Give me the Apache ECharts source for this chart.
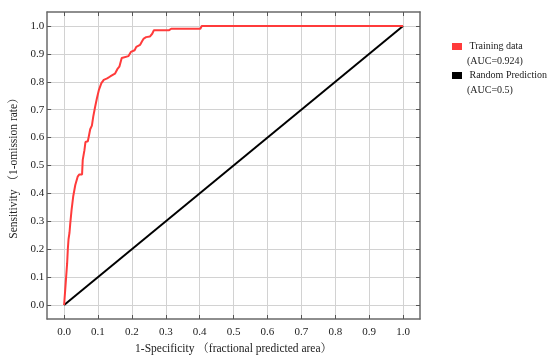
<!DOCTYPE html>
<html><head><meta charset="utf-8">
<script src="https://cdn.jsdelivr.net/npm/echarts@6/dist/echarts.min.js"></script>
<style>html,body{margin:0;padding:0;background:#fff}#c{width:550px;height:360px}</style>
</head><body><div id="c"></div>
<script>
const seriesNames = ['Training data', 'Random Prediction'];
const aucLabels = ['(AUC=0.924)', '(AUC=0.5)'];
const seriesColors = ['#ff3b3b', '#000000'];
const trainingFpr = [0, 0.003, 0.006, 0.009, 0.011, 0.013, 0.016, 0.018, 0.022, 0.027, 0.033, 0.040, 0.045, 0.053, 0.055, 0.060, 0.063, 0.070, 0.073, 0.077, 0.082, 0.086, 0.091, 0.097, 0.103, 0.110, 0.117, 0.127, 0.136, 0.141, 0.150, 0.157, 0.163, 0.170, 0.175, 0.190, 0.197, 0.208, 0.213, 0.224, 0.230, 0.235, 0.242, 0.253, 0.260, 0.265, 0.310, 0.316, 0.402, 0.406, 1.0];
const trainingTpr = [0, 0.05, 0.10, 0.15, 0.20, 0.235, 0.26, 0.29, 0.34, 0.39, 0.43, 0.46, 0.468, 0.468, 0.52, 0.555, 0.584, 0.587, 0.605, 0.63, 0.643, 0.675, 0.707, 0.742, 0.772, 0.795, 0.807, 0.812, 0.819, 0.826, 0.829, 0.845, 0.854, 0.885, 0.892, 0.892, 0.907, 0.913, 0.925, 0.932, 0.945, 0.955, 0.96, 0.962, 0.972, 0.985, 0.985, 0.99, 0.99, 1.0, 1.0];
const randomFpr = [0, 1];
const randomTpr = [0, 1];
const xTickValues = [0, 0.1, 0.2, 0.3, 0.4, 0.5, 0.6, 0.7, 0.8, 0.9, 1.0];
const yTickValues = [0, 0.1, 0.2, 0.3, 0.4, 0.5, 0.6, 0.7, 0.8, 0.9, 1.0];
const xAxisTitle = '1-Specificity （fractional predicted area）';
const yAxisTitle = 'Sensitivity （1-omission rate）';

const FONT = "'Liberation Serif', 'Noto Serif CJK SC', 'Noto Sans CJK SC', serif";
const frameLine = { show: true, onZero: false, lineStyle: { color: '#6a6a6a', width: 1.5 } };
const tickStyle = { color: '#555', width: 1 };

function makeAxis(position, ticks, main, title, gap) {
  return {
    type: 'value', position: position, min: -0.05, max: 1.05,
    axisLine: frameLine,
    axisTick: { show: true, inside: true, length: 4, customValues: ticks, lineStyle: tickStyle },
    axisLabel: main ? { show: true, customValues: ticks, formatter: v => v.toFixed(1), margin: (position === 'bottom' ? 8 : 3), fontSize: 11, color: '#222', fontFamily: FONT } : { show: false },
    splitLine: { show: main, lineStyle: { color: '#d2d2d2', width: 1 } },
    name: main ? title : '',
    nameLocation: 'middle', nameGap: gap,
    nameTextStyle: { fontFamily: FONT, fontSize: 11.5, color: '#222' }
  };
}

const chart = echarts.init(document.getElementById('c'));
chart.setOption({
  animation: false,
  backgroundColor: '#fff',
  grid: { left: 40, right: 130, top: 12, bottom: 41, containLabel: false },
  xAxis: [makeAxis('bottom', xTickValues, true, xAxisTitle, 24), makeAxis('top', xTickValues, false, '', 0)],
  yAxis: [makeAxis('left', yTickValues, true, yAxisTitle, 22), makeAxis('right', yTickValues, false, '', 0)],
  legend: {
    orient: 'vertical', left: 447, top: 19, itemWidth: 10, itemHeight: 7, itemGap: -16,
    icon: 'rect', data: seriesNames,
    formatter: name => '\n ' + name + '\n' + aucLabels[seriesNames.indexOf(name)],
    textStyle: { fontFamily: FONT, fontSize: 10, lineHeight: 15, color: '#222' }
  },
  series: [
    { name: seriesNames[1], type: 'line', xAxisIndex: 0, yAxisIndex: 0, showSymbol: false, symbol: 'none',
      data: randomFpr.map((x, i) => [x, randomTpr[i]]),
      lineStyle: { color: seriesColors[1], width: 2 }, itemStyle: { color: seriesColors[1] } },
    { name: seriesNames[0], type: 'line', xAxisIndex: 0, yAxisIndex: 0, showSymbol: false, symbol: 'none',
      data: trainingFpr.map((x, i) => [x, trainingTpr[i]]),
      lineStyle: { color: seriesColors[0], width: 2 }, itemStyle: { color: seriesColors[0] } }
  ]
});
</script></body></html>
